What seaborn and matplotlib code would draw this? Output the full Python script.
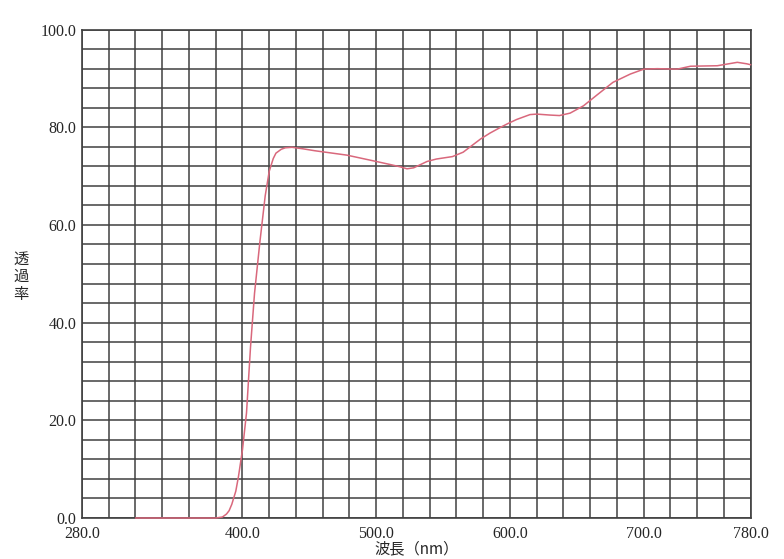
import matplotlib
matplotlib.use("Agg")
import matplotlib.pyplot as plt
import seaborn as sns
import pandas as pd
import numpy as np

# transmittance curve
wavelength = [320, 340, 360, 380, 385, 388, 390, 392, 395, 397, 400, 403, 406, 409, 413,
              417, 420, 423, 425, 429, 432, 437, 445, 454, 478, 500, 510, 518, 523, 528,
              538, 545, 557, 565, 578, 585, 593, 598, 605, 615, 620, 630, 637, 645, 655,
              665, 677, 690, 700, 710, 725, 735, 755, 770, 777, 780]
transmittance = [0.0, 0.0, 0.0, 0.0, 0.2, 0.8, 1.5, 2.8, 5.5, 8.5, 14.0, 21.5, 35.0, 46.0, 56.5,
                 66.0, 71.0, 73.6, 74.7, 75.5, 75.8, 75.9, 75.6, 75.2, 74.3, 73.0, 72.4, 71.9,
                 71.5, 71.7, 73.0, 73.5, 74.0, 74.9, 77.6, 78.8, 80.0, 80.7, 81.6, 82.6, 82.7,
                 82.5, 82.4, 82.9, 84.4, 86.6, 89.2, 90.9, 91.9, 92.0, 91.9, 92.5, 92.6, 93.3,
                 93.0, 92.8]

x_ticks = [280, 400, 500, 600, 700, 780]
y_ticks = [0, 20, 40, 60, 80, 100]

df = pd.DataFrame({"wl": wavelength, "t": transmittance})

sns.set_style("white")
plt.rcParams['font.family'] = ['Liberation Serif', 'Noto Sans CJK JP', 'DejaVu Sans']

fig = plt.figure(figsize=(7.84, 5.59), dpi=100)
ax = fig.add_axes([82 / 784, 41 / 559, 668.7 / 784, 488.4 / 559])

# grid every 20 nm / 4 %
ax.set_xticks(np.arange(280, 781, 20), minor=True)
ax.set_yticks(np.arange(0, 101, 4), minor=True)
ax.grid(True, which="minor", color="#404040", linewidth=1.1)
ax.grid(True, which="major", color="#404040", linewidth=1.1)

sns.lineplot(data=df, x="wl", y="t", ax=ax, color="#d9687c", linewidth=1.1,
             zorder=5, clip_on=False)

ax.set_xlim(280, 780)
ax.set_ylim(0, 100)
ax.set_xticks(x_ticks)
ax.set_xticklabels([f"{v:.1f}" for v in x_ticks], fontsize=11.5)
ax.set_yticks(y_ticks)
ax.set_yticklabels([f"{v:.1f}" for v in y_ticks], fontsize=11.5)
ax.tick_params(which="major", direction="out", length=3, width=1, color="#404040", pad=1)
ax.tick_params(which="minor", length=0)
ax.tick_params(axis="x", pad=3)

for s in ax.spines.values():
    s.set_visible(True)
    s.set_color("#404040")
    s.set_linewidth(1.2)

ax.set_xlabel("")
ax.set_ylabel("")
ax.text(0.5, -0.063, "波長（nm）", transform=ax.transAxes, ha="center", va="center",
        fontsize=11, family=['Noto Sans CJK JP', 'DejaVu Sans'])
ax.text(-0.091, 0.494, "透\n過\n率", transform=ax.transAxes, ha="center", va="center",
        fontsize=11, linespacing=1.05, family=['Noto Sans CJK JP', 'DejaVu Sans'])

fig.savefig("out.png", dpi=100)
plt.close(fig)
